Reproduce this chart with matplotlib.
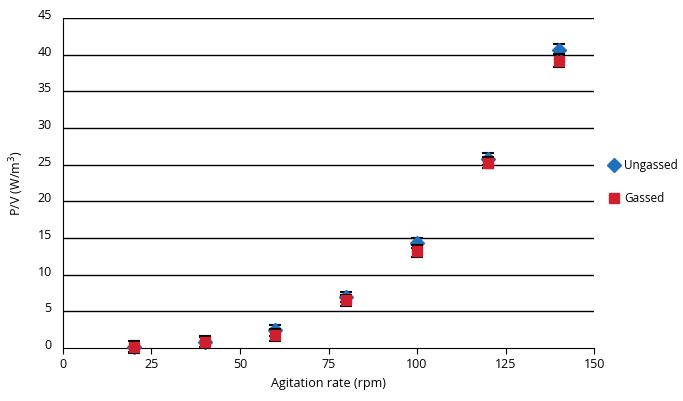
import matplotlib.pyplot as plt
from matplotlib.transforms import ScaledTranslation

rpm = [20, 40, 60, 80, 100, 120, 140]
ungassed = [0.2, 0.8, 2.4, 7.0, 14.3, 25.8, 40.7]
ungassed_err = [0.7, 0.7, 0.7, 0.7, 0.7, 0.8, 0.8]
gassed = [0.1, 0.8, 1.8, 6.5, 13.2, 25.3, 39.2]
gassed_err = [0.8, 0.8, 0.8, 0.8, 0.8, 0.8, 0.9]

plt.rcParams['font.family'] = ['Open Sans', 'DejaVu Sans']
fig = plt.figure(figsize=(6.83, 4.01), dpi=100)
ax = fig.add_axes([0.092, 0.132, 0.778, 0.823])

for v in range(5, 50, 5):
    ax.axhline(v, color='black', lw=1.0, zorder=1)

for y, e, m, c, name, z in [(ungassed, ungassed_err, 'D', '#1f6fba', 'Ungassed', 3),
                            (gassed, gassed_err, 's', '#d0202e', 'Gassed', 4)]:
    eb = ax.errorbar(rpm, y, yerr=e, fmt=m, color=c, ms=7, ecolor='black',
                     elinewidth=1.2, capsize=4, capthick=1.5, label=name, zorder=z)
    for art in eb.lines[1] + eb.lines[2] + (eb.lines[0],):
        art.set_clip_on(False)

ax.set_xlim(0, 150)
ax.set_ylim(0, 45)
ax.set_xticks(range(0, 151, 25))
ax.set_yticks(range(0, 46, 5))
ax.spines['top'].set_visible(False)
ax.spines['right'].set_visible(False)
ax.tick_params(axis='y', length=0, labelsize=9, pad=8)
ax.tick_params(axis='x', length=4, direction='out', labelsize=9)
off = ScaledTranslation(0, 3 / 72, fig.dpi_scale_trans)
for lab in ax.get_yticklabels():
    lab.set_transform(lab.get_transform() + off)
ax.set_xlabel('Agitation rate (rpm)', fontsize=9)
ax.set_ylabel('P/V (W/m$^3$)', fontsize=9, labelpad=8)

h, l = ax.get_legend_handles_labels()
h = [x[0] for x in h]
fig.legend(h, l, loc='center left', bbox_to_anchor=(0.888, 0.546), frameon=False,
           fontsize=8.5, handletextpad=0.3, labelspacing=1.75, handlelength=1.2,
           borderpad=0, borderaxespad=0)

fig.savefig('out.png', dpi=100)
